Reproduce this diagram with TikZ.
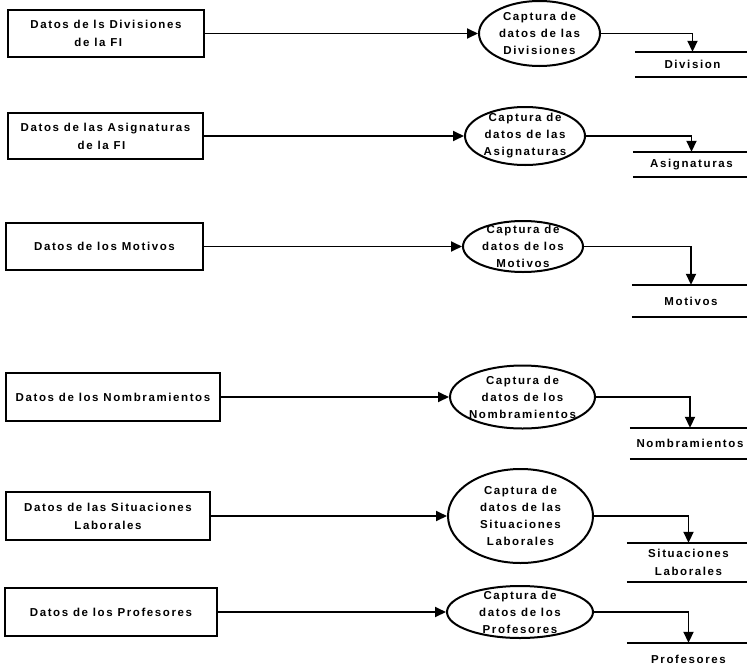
\documentclass[tikz,border=0pt]{standalone}
\usepackage{fontspec}
\newfontfamily\dfdfont{Liberation Sans}[LetterSpace=14]
\usepackage{tikz}
\usetikzlibrary{shapes.geometric}
\usetikzlibrary{arrows.meta}
\tikzset{fuente/.style={draw=black, rectangle, line width=2pt, inner sep=0pt}}
\tikzset{proceso/.style={draw=black, ellipse, line width=2pt, inner sep=0pt}}
\tikzset{ptexto/.style={align=center, inner sep=0pt, font=\dfdfont\bfseries\fontsize{11.5}{17}\selectfont}}
\tikzset{almacen/.style={inner sep=0pt, align=center,
    append after command={(\tikzlastnode.north west) edge[line width=2pt] (\tikzlastnode.north east)
                          (\tikzlastnode.south west) edge[line width=2pt] (\tikzlastnode.south east)}}}
\tikzset{flujo/.style={line width=1.8pt, -{Triangle[length=11pt,width=10pt]}}}

\begin{document}
\begin{tikzpicture}[x=1pt, y=-1pt, font=\dfdfont\bfseries\fontsize{11.5}{18}\selectfont]
		\clip (0,0) rectangle (747,672);
		% entidades externas
		\node[fuente, minimum width=196pt, minimum height=47pt, align=left] (D1) at (106,33.5) {Datos de ls Divisiones\\\hspace*{44pt}de la FI};
		\node[fuente, minimum width=195pt, minimum height=46pt, align=left] (D2) at (105.5,136) {Datos de las Asignaturas\\\hspace*{57pt}de la FI};
		\node[fuente, minimum width=197pt, minimum height=47pt] (D3) at (104.5,246.5) {Datos de los Motivos};
		\node[fuente, minimum width=214pt, minimum height=48pt] (D4) at (113,397) {Datos de los Nombramientos};
		\node[fuente, minimum width=204pt, minimum height=48pt, align=center] (D5) at (108,516) {Datos de las Situaciones\\Laborales};
		\node[fuente, minimum width=212pt, minimum height=48pt] (D6) at (111,612) {Datos de los Profesores};
		
		% procesos
		\node[proceso, minimum width=121pt, minimum height=65pt, label={[ptexto]center:Captura de\\datos de las\\Divisiones}] (C1) at (539.5,33.5) {};
		\node[proceso, minimum width=120pt, minimum height=58pt, label={[ptexto]center:Captura de\\datos de las\\Asignaturas}] (C2) at (525,136) {};
		\node[proceso, minimum width=120pt, minimum height=51pt, label={[ptexto]center:Captura de\\datos de los\\Motivos}] (C3) at (523,246.5) {};
		\node[proceso, minimum width=145pt, minimum height=63pt, label={[ptexto]center:Captura de\\datos de los\\Nombramientos}] (C4) at (522.5,397) {};
		\node[proceso, minimum width=145pt, minimum height=94pt, label={[ptexto]center:Captura de\\datos de las\\Situaciones\\Laborales}] (C5) at (520.5,516) {};
		\node[proceso, minimum width=146pt, minimum height=52pt, label={[ptexto]center:Captura de\\datos de los\\Profesores}] (C6) at (520,612) {};
		
		% almacenes
		\node[almacen, minimum width=115pt, minimum height=25pt] (A1) at (692.5,64.5) {Division};
		\node[almacen, minimum width=117pt, minimum height=25pt] (A2) at (691.5,164.5) {Asignaturas};
		\node[almacen, minimum width=118pt, minimum height=32pt] (A3) at (691,301) {Motivos};
		\node[almacen, minimum width=120pt, minimum height=31pt] (A4) at (690,443.5) {Nombramientos};
		\node[almacen, minimum width=123pt, minimum height=39pt] (A5) at (688.5,562.5) {Situaciones\\Laborales};
		\node[almacen, minimum width=123pt, minimum height=32pt] (A6) at (688.5,659) {Profesores};
		
		\foreach \i in {1,...,6}{
			\draw[flujo] (D\i) -- (C\i);
			\draw[flujo] (C\i) -| (A\i);
		}
	\end{tikzpicture}
\end{document}
